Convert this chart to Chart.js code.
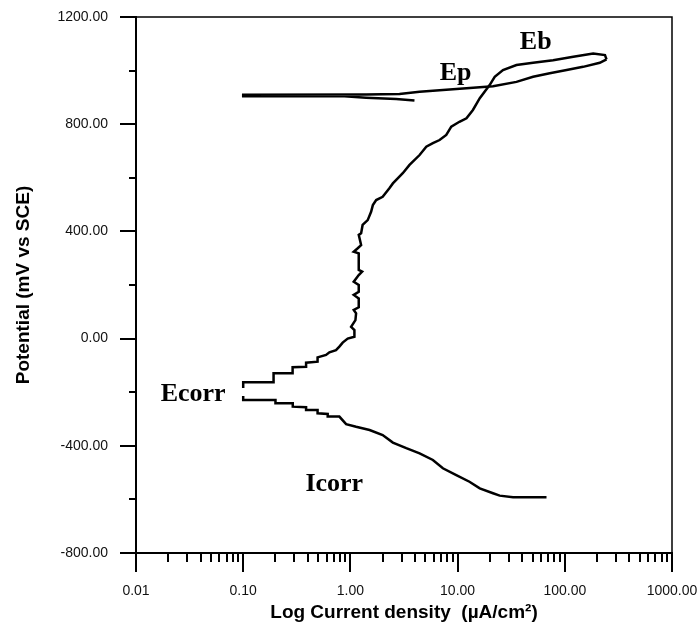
<!DOCTYPE html>
<html>
<head>
<meta charset="utf-8">
<script src="https://cdn.jsdelivr.net/npm/chart.js@4.4.1/dist/chart.umd.min.js"></script>
<style>
  html, body { margin: 0; padding: 0; background: #fff; }
  #wrap { width: 699px; height: 631px; }
</style>
</head>
<body>
<div id="wrap"><canvas id="c" width="699" height="631"></canvas></div>
<script>
// ---- Data (current density in µA/cm², potential in mV vs SCE) ----
const cathodicI = [67.5, 32.9, 24.7, 21.4, 16.1, 12.9, 9.72, 7.29, 5.88, 4.42, 3.32, 2.49, 2.0, 1.51, 1.13, 0.912, 0.789, 0.614, 0.614, 0.494, 0.494, 0.386, 0.386, 0.29, 0.29, 0.2, 0.2, 0.1, 0.1];
const cathodicE = [-592, -592, -586, -577, -559, -534, -509, -484, -453, -428, -409, -388, -360, -341, -329, -319, -291, -291, -281, -279, -266, -266, -256, -254, -241, -241, -229, -229, -214];

const anodicI = [0.1, 0.1, 0.192, 0.192, 0.289, 0.289, 0.386, 0.386, 0.494, 0.494, 0.593, 0.637, 0.734, 0.789, 0.847, 0.944, 1.09, 1.09, 1.015, 1.114, 1.13, 1.074, 1.196, 1.196, 1.074, 1.196, 1.196, 1.074, 1.196, 1.286, 1.196, 1.196, 1.074, 1.17, 1.259, 1.196, 1.259, 1.30, 1.45, 1.56, 1.62, 1.74, 2.0, 2.31, 2.49, 3.08, 3.56, 4.42, 5.10, 5.88, 6.79, 7.84, 8.73, 10.4, 12.1, 13.9, 16.1, 19.9, 22.2, 26.5, 35.4, 50.6, 77.8, 120, 184, 237, 245];
const anodicE = [-184, -163, -163, -129, -129, -107, -105, -90, -86, -70, -61, -51, -43, -30, -15, 0, 7, 32, 44, 69, 94, 107, 117, 150, 163, 175, 200, 212, 237, 250, 256, 318, 324, 337, 349, 387, 393, 424, 442, 473, 498, 517, 529, 561, 579, 617, 648, 685, 716, 729, 741, 760, 791, 809, 822, 853, 897, 946, 977, 1002, 1021, 1029, 1039, 1052, 1064, 1058, 1042];

const reverseI = [245, 212, 148, 104, 72.4, 50.6, 35.4, 21.4, 12.1, 6.79, 4.42, 2.87, 1.40, 0.1, 0.1, 0.879, 1.40, 2.67, 3.96];
const reverseE = [1042, 1029, 1014, 1002, 990, 977, 958, 942, 934, 927, 921, 913, 911, 910, 904, 904, 899, 894, 888];

const xMajorTicks = [0.01, 0.1, 1, 10, 100, 1000];
const yMajorTicks = [-800, -400, 0, 400, 800, 1200];
const yMinorTicks = [-600, -200, 200, 600, 1000];

const annotations = [
  { text: 'Eb',    I: 53.6,   E: 1082 },
  { text: 'Ep',    I: 9.57,   E: 965 },
  { text: 'Ecorr', I: 0.0341, E: -233 },
  { text: 'Icorr', I: 0.707,  E: -569 }
];

const toPts = (xs, ys) => xs.map((v, i) => ({ x: v, y: ys[i] }));

const lineStyle = {
  showLine: true, pointRadius: 0, borderColor: '#000', borderWidth: 2.5,
  tension: 0, fill: false
};

const decor = {
  id: 'decor',
  afterDraw(chart) {
    const { ctx, chartArea: a, scales: { x, y } } = chart;
    ctx.save();
    ctx.strokeStyle = '#000';
    ctx.lineWidth = 1.5;
    ctx.beginPath();
    ctx.moveTo(a.left, a.top);
    ctx.lineTo(a.right, a.top);
    ctx.lineTo(a.right, a.bottom);
    ctx.stroke();
    ctx.lineWidth = 2;
    ctx.beginPath();
    xMajorTicks.forEach(v => {
      const px = Math.round(x.getPixelForValue(v));
      ctx.moveTo(px, a.bottom); ctx.lineTo(px, a.bottom + 19);
    });
    for (let d = -2; d <= 2; d++) {
      for (let m = 2; m <= 9; m++) {
        const px = Math.round(x.getPixelForValue(m * Math.pow(10, d)));
        ctx.moveTo(px, a.bottom); ctx.lineTo(px, a.bottom + 9);
      }
    }
    yMajorTicks.forEach(v => {
      const py = Math.round(y.getPixelForValue(v));
      ctx.moveTo(a.left - 16, py); ctx.lineTo(a.left, py);
    });
    yMinorTicks.forEach(v => {
      const py = Math.round(y.getPixelForValue(v));
      ctx.moveTo(a.left - 7, py); ctx.lineTo(a.left, py);
    });
    ctx.stroke();
    ctx.fillStyle = '#000';
    ctx.font = 'bold 26px "Liberation Serif", "Times New Roman", serif';
    ctx.textAlign = 'center';
    ctx.textBaseline = 'alphabetic';
    annotations.forEach(t => {
      ctx.fillText(t.text, x.getPixelForValue(t.I), y.getPixelForValue(t.E));
    });
    ctx.restore();
  }
};

new Chart(document.getElementById('c'), {
  type: 'scatter',
  data: {
    datasets: [
      Object.assign({ data: toPts(cathodicI, cathodicE) }, lineStyle),
      Object.assign({ data: toPts(anodicI, anodicE) }, lineStyle),
      Object.assign({ data: toPts(reverseI, reverseE) }, lineStyle)
    ]
  },
  options: {
    responsive: false,
    animation: false,
    devicePixelRatio: 1,
    layout: { padding: { top: 17, right: 27, left: 0, bottom: 0 } },
    plugins: { legend: { display: false }, tooltip: { enabled: false } },
    scales: {
      x: {
        type: 'logarithmic',
        position: 'bottom',
        min: 0.01, max: 1000,
        grid: { display: false, drawTicks: false },
        border: { display: true, color: '#000', width: 2 },
        afterBuildTicks: s => { s.ticks = xMajorTicks.map(v => ({ value: v, major: true })); },
        afterFit: s => { s.height = 78; s.paddingLeft = 0; s.paddingRight = 0; },
        ticks: {
          autoSkip: false, maxRotation: 0, minRotation: 0,
          padding: 30, color: '#111',
          font: { family: '"Liberation Sans", Arial, sans-serif', size: 14 },
          callback: v => Number(v).toFixed(2)
        },
        title: {
          display: true, text: 'Log Current density  (µA/cm²)', color: '#000',
          font: { family: '"Liberation Sans", Arial, sans-serif', size: 19, weight: 'bold' },
          padding: { top: 0, bottom: 7 }
        }
      },
      y: {
        position: 'left',
        min: -800, max: 1200,
        grid: { display: false, drawTicks: false },
        border: { display: true, color: '#000', width: 2 },
        afterBuildTicks: s => { s.ticks = yMajorTicks.map(v => ({ value: v })); },
        afterFit: s => { s.width = 136; s.paddingTop = 0; s.paddingBottom = 0; },
        ticks: {
          padding: 28, color: '#111',
          font: { family: '"Liberation Sans", Arial, sans-serif', size: 14 },
          callback: v => Number(v).toFixed(2)
        },
        title: {
          display: true, text: 'Potential (mV vs SCE)', color: '#000',
          font: { family: '"Liberation Sans", Arial, sans-serif', size: 19, weight: 'bold' },
          padding: { top: 12, bottom: 0 }
        }
      }
    }
  },
  plugins: [decor]
});
</script>
</body>
</html>
